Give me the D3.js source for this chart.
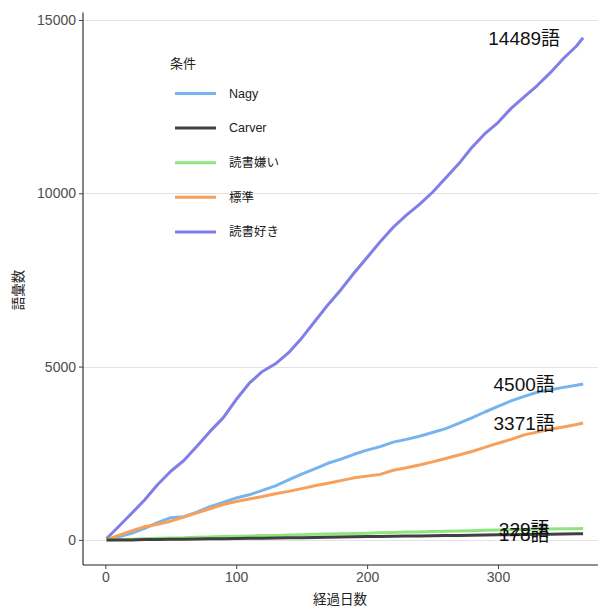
<!DOCTYPE html>
<html><head><meta charset="utf-8">
<script src="https://cdn.jsdelivr.net/npm/d3@7"></script>
<style>
html,body{margin:0;padding:0;background:#fff;}
svg{display:block;font-family:"Liberation Sans","Noto Sans CJK JP",sans-serif;}
</style></head>
<body>
<svg id="chart" width="598" height="610"></svg>
<script>
// ---- data ----
const days = [1,10,20,30,40,50,60,70,80,90,100,110,120,130,140,150,160,170,180,190,200,210,220,230,240,250,260,270,280,290,300,310,320,330,340,350,360,365];
const seriesNames = ["Nagy","Carver","読書嫌い","標準","読書好き"];
const nagy = [0,90,190,330,500,640,670,800,960,1080,1210,1300,1430,1560,1730,1900,2050,2210,2330,2470,2590,2690,2820,2900,2990,3100,3210,3360,3520,3690,3850,4010,4140,4260,4330,4400,4460,4500];
const carver = [0,0,0,10,12,15,20,25,30,35,40,45,50,55,60,65,70,75,85,90,95,100,105,110,115,120,125,130,135,140,145,150,155,160,165,170,175,178];
const dislike = [0,10,20,30,45,55,60,75,85,95,105,115,125,130,140,150,160,170,175,185,195,205,215,225,230,240,250,255,265,275,285,295,300,310,315,320,325,329];
const standard = [0,130,260,380,450,540,660,780,900,1020,1110,1180,1250,1330,1400,1480,1560,1635,1710,1790,1840,1890,2010,2080,2160,2250,2350,2450,2550,2670,2790,2900,3030,3110,3190,3260,3330,3371];
const like = [40,380,760,1150,1600,1980,2290,2700,3130,3520,4050,4520,4860,5080,5400,5820,6300,6780,7220,7700,8150,8600,9020,9370,9680,10030,10440,10850,11320,11720,12040,12450,12780,13110,13480,13890,14250,14489];
const finalLabels = ["4500語","178語","329語","3371語","14489語"];
const finalValues = [4500,178,329,3371,14489];
const labelDay = 320;
const yTicks = [0,5000,10000,15000];
const xTicks = [0,100,200,300];
const colors = ["#77b4ee","#404040","#8de57b","#f6a05c","#7f7fe6"];

const seriesValues = [nagy, carver, dislike, standard, like];

const svg = d3.select("#chart");
const x = d3.scaleLinear().domain([-17.2, 383.2]).range([82.8, 606.9]);
const y = d3.scaleLinear().domain([-724.45, 15213.45]).range([565, 12.6]);

// gridlines
svg.append("g").selectAll("line").data(yTicks).join("line")
  .attr("x1", 83).attr("x2", 598)
  .attr("y1", d => Math.round(y(d)) + 0.5).attr("y2", d => Math.round(y(d)) + 0.5)
  .attr("stroke", "#e3e3e3").attr("stroke-width", 1);

// lines
const line = d3.line().x((d,i) => x(days[i])).y(d => y(d));
const order = [4,0,3,2,1];
svg.append("g").selectAll("path").data(order).join("path")
  .attr("d", k => line(seriesValues[k]))
  .attr("fill", "none").attr("stroke", k => colors[k])
  .attr("stroke-width", 3).attr("stroke-linejoin", "round");

// axes
const yAxis = d3.axisLeft(y).tickValues(yTicks).tickFormat(d3.format("d")).tickSize(4).tickPadding(3);
const gy = svg.append("g").attr("transform", "translate(83,0)").call(yAxis);
const xAxis = d3.axisBottom(x).tickValues(xTicks).tickFormat(d3.format("d")).tickSize(4).tickPadding(3);
const gx = svg.append("g").attr("transform", "translate(0,565)").call(xAxis);
[gy, gx].forEach(g => {
  g.select(".domain").attr("stroke", "#222").attr("stroke-width", 1.1);
  g.selectAll(".tick line").attr("stroke", "#444");
  g.selectAll(".tick text").attr("fill", "#4d4d4d").style("font-size", "14px")
    .style("font-family", "Liberation Sans, Arial, sans-serif");
});
gy.select(".domain").attr("d", "M0," + y.range()[1] + "V565");
gx.select(".domain").attr("d", "M83,0H598");

// axis titles
svg.append("text").attr("x", 340).attr("y", 604).attr("text-anchor", "middle")
  .style("font-size", "13.5px").attr("fill", "#222").text("経過日数");
svg.append("text").attr("transform", "translate(23,290) rotate(-90)").attr("text-anchor", "middle")
  .style("font-size", "13.5px").attr("fill", "#222").text("語彙数");

// end labels
svg.append("g").selectAll("text").data(finalValues).join("text")
  .attr("x", x(labelDay)).attr("y", d => y(d))
  .attr("dy", "0.38em").attr("text-anchor", "middle")
  .style("font-size", "19px").attr("fill", "#111")
  .text((d,i) => finalLabels[i]);

// legend
const lg = svg.append("g");
lg.append("text").attr("x", 170).attr("y", 68).style("font-size", "13px").attr("fill", "#222").text("条件");
const items = lg.selectAll("g.item").data(seriesNames).join("g").attr("class", "item")
  .attr("transform", (d,i) => `translate(0,${93.5 + i*34.6})`);
items.append("line").attr("x1", 175).attr("x2", 216).attr("y1", 0).attr("y2", 0)
  .attr("stroke", (d,i) => colors[i]).attr("stroke-width", 3);
items.append("text").attr("x", 229).attr("y", 0).attr("dy", "0.35em")
  .style("font-size", "12.5px").attr("fill", "#222").text(d => d);
</script>
</body></html>
